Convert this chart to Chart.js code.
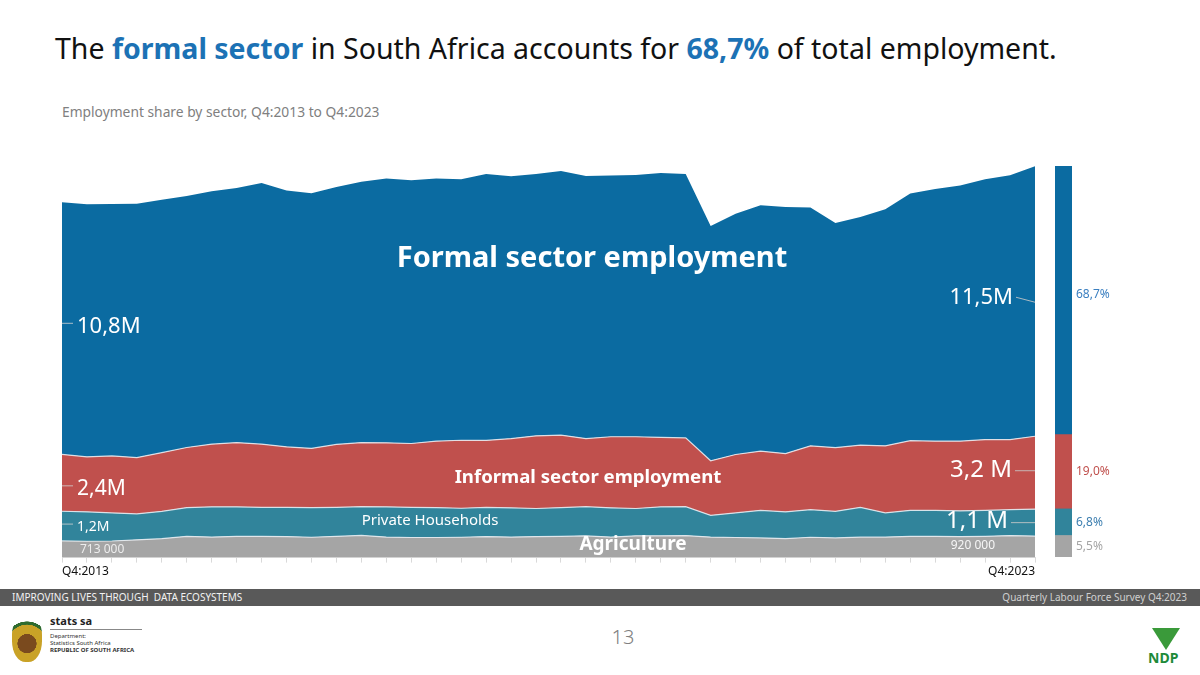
<!DOCTYPE html>
<html>
<head>
<meta charset="utf-8">
<script src="https://cdn.jsdelivr.net/npm/chart.js@4/dist/chart.umd.min.js"></script>
<style>
  body { margin: 0; width: 1200px; height: 675px; position: relative; background: #fff; overflow: hidden; font-family: 'Noto Sans', 'Open Sans', sans-serif; }
  #title { position: absolute; left: 55px; top: 29px; font-size: 28.5px; line-height: 38px; color: #111; white-space: nowrap; }
  #title b { color: #1c72b5; }
  #subtitle { position: absolute; left: 62px; top: 103px; font-size: 13.8px; line-height: 18px; color: #808080; white-space: nowrap; }
  #mainWrap { position: absolute; left: 0; top: 140px; width: 1045px; height: 441px; }
  #barWrap { position: absolute; left: 1040px; top: 140px; width: 160px; height: 417px; }
  #band { position: absolute; left: 0; top: 589px; width: 1200px; height: 17px; background: #595959; }
  #band .l { position: absolute; left: 12px; top: 1px; font-size: 10px; line-height: 15px; color: #f2f2f2; font-family: 'Liberation Sans Narrow', 'Noto Sans', sans-serif; }
  #band .r { position: absolute; right: 13px; top: 1px; font-size: 10px; line-height: 15px; color: #d0d0d0; font-family: 'Liberation Sans Narrow', 'Noto Sans', sans-serif; }
  #page { position: absolute; left: 600px; width: 46px; top: 624px; text-align: center; font-size: 20px; line-height: 26px; color: #808080; font-weight: 300; }
  #arms { position: absolute; left: 12px; top: 616px; width: 30px; height: 46px; border-radius: 40% 40% 45% 45%; background: radial-gradient(circle at 50% 60%, #7a4a1e 0 30%, #c9a227 31% 60%, #2f6b2f 61% 70%, #fff 71%); }
  #stats { position: absolute; left: 50px; top: 614px; font-size: 11px; font-weight: bold; color: #222; line-height: 13px; }
  #stats .rule { width: 92px; height: 1px; background: #888; margin: 2px 0 3px; }
  #stats .small { font-size: 6px; font-weight: normal; line-height: 7px; color: #333; }
  #stats .small b { font-weight: bold; }
  #ndp { position: absolute; left: 1148px; top: 628px; width: 38px; height: 40px; }
  #ndp .tri { position: absolute; left: 4px; top: 0; width: 0; height: 0; border-left: 14px solid transparent; border-right: 14px solid transparent; border-top: 22px solid #3a9a3a; }
  #ndp .txt { position: absolute; left: 0; top: 20px; font-size: 14px; font-weight: bold; color: #1e8a3a; font-family: 'Liberation Sans Narrow', 'Noto Sans', sans-serif; }
</style>
</head>
<body>
<div id="title">The <b>formal sector</b> in South Africa accounts for <b>68,7%</b> of total employment.</div>
<div id="subtitle">Employment share by sector, Q4:2013 to Q4:2023</div>
<div id="mainWrap"><canvas id="areaChart"></canvas></div>
<div id="barWrap"><canvas id="shareChart"></canvas></div>
<div id="band"><span class="l">IMPROVING LIVES THROUGH&nbsp; DATA ECOSYSTEMS</span><span class="r">Quarterly Labour Force Survey Q4:2023</span></div>
<div id="page">13</div>
<div id="arms"></div>
<div id="stats">stats sa<div class="rule"></div><div class="small">Department:<br>Statistics South Africa<br><b>REPUBLIC OF SOUTH AFRICA</b></div></div>
<div id="ndp"><div class="tri"></div><div class="txt">NDP</div></div>

<script>
// quarters shown on the chart (one point per quarter)
const quarters = [
  'Q4:2013',
  'Q1:2014', 'Q2:2014', 'Q3:2014', 'Q4:2014',
  'Q1:2015', 'Q2:2015', 'Q3:2015', 'Q4:2015',
  'Q1:2016', 'Q2:2016', 'Q3:2016', 'Q4:2016',
  'Q1:2017', 'Q2:2017', 'Q3:2017', 'Q4:2017',
  'Q1:2018', 'Q2:2018', 'Q3:2018', 'Q4:2018',
  'Q1:2019', 'Q2:2019', 'Q3:2019', 'Q4:2019',
  'Q1:2020', 'Q2:2020', 'Q3:2020', 'Q4:2020',
  'Q1:2021', 'Q2:2021', 'Q3:2021', 'Q4:2021',
  'Q1:2022', 'Q2:2022', 'Q3:2022', 'Q4:2022',
  'Q1:2023', 'Q2:2023', 'Q3:2023'
];
const axisEndLabels = ['Q4:2013', 'Q4:2023'];

// employment in millions
const agriculture = [0.713, 0.70, 0.71, 0.76, 0.81, 0.91, 0.88, 0.91, 0.91, 0.90, 0.87, 0.91, 0.95, 0.88, 0.86, 0.86, 0.87, 0.90, 0.88, 0.90,
  0.91, 0.93, 0.88, 0.93, 0.93, 0.94, 0.88, 0.86, 0.84, 0.81, 0.87, 0.84, 0.88, 0.88, 0.91, 0.91, 0.90, 0.91, 0.94, 0.92];
const privateHouseholds = [1.27, 1.26, 1.20, 1.11, 1.17, 1.23, 1.29, 1.26, 1.24, 1.25, 1.27, 1.24, 1.23, 1.29, 1.29, 1.28, 1.24, 1.25, 1.25, 1.20,
  1.23, 1.25, 1.25, 1.17, 1.24, 1.24, 0.93, 1.05, 1.18, 1.15, 1.18, 1.14, 1.27, 1.03, 1.11, 1.11, 1.10, 1.11, 1.11, 1.15];
const informalSector = [2.43, 2.35, 2.44, 2.41, 2.51, 2.57, 2.68, 2.75, 2.70, 2.59, 2.53, 2.69, 2.74, 2.74, 2.73, 2.84, 2.91, 2.86, 2.96, 3.11,
  3.10, 2.91, 3.04, 3.07, 2.97, 2.94, 2.33, 2.50, 2.53, 2.49, 2.73, 2.72, 2.66, 2.87, 2.98, 2.96, 2.98, 3.03, 3.00, 3.12];
const formalSector = [10.79, 10.80, 10.77, 10.86, 10.82, 10.76, 10.82, 10.89, 11.17, 10.96, 10.91, 11.01, 11.16, 11.30, 11.26, 11.23, 11.16, 11.40, 11.22, 11.20,
  11.30, 11.23, 11.17, 11.20, 11.31, 11.29, 10.04, 10.30, 10.52, 10.55, 10.19, 9.61, 9.76, 10.12, 10.57, 10.79, 10.94, 11.13, 11.30, 11.55];

// latest quarter shares (%), bottom to top
const shareLabels = ['Agriculture', 'Private Households', 'Informal sector employment', 'Formal sector employment'];
const latestShares = [5.5, 6.8, 19.0, 68.7];
const shareTexts = ['5,5%', '6,8%', '19,0%', '68,7%'];

const startTexts = ['713 000', '1,2M', '2,4M', '10,8M'];
const endTexts = ['920 000', '1,1 M', '3,2 M', '11,5M'];

const colors = ['#a5a5a5', '#31849b', '#c0504d', '#0b6ba1'];
const textColors = ['#a5a5a5', '#3d7fb0', '#c0504d', '#3a7fc0'];

function bandMid(chart, ds, i) {
  const y1 = chart.getDatasetMeta(ds).data[i].y;
  const y0 = ds > 0 ? chart.getDatasetMeta(ds - 1).data[i].y : chart.scales.y.getPixelForValue(0);
  return (y0 + y1) / 2;
}

const areaLabels = {
  id: 'areaLabels',
  afterDatasetsDraw(chart) {
    const ctx = chart.ctx;
    const area = chart.chartArea;
    const last = quarters.length - 1;
    ctx.save();
    ctx.textBaseline = 'middle';
    ctx.fillStyle = '#fff';

    // left side values
    const leftFonts = ['12px', '14px', '21px', '22px'];
    const leftShift = [0, 1, 6, -2];
    for (let d = 0; d < 4; d++) {
      const y = bandMid(chart, d, 0) + leftShift[d];
      ctx.font = leftFonts[d] + " 'Noto Sans'";
      ctx.textAlign = 'left';
      ctx.fillStyle = d === 0 ? 'rgba(255,255,255,0.8)' : '#fff';
      ctx.fillText(startTexts[d], area.left + (d === 0 ? 18 : 15), y);
      if (d > 0) {
        ctx.strokeStyle = 'rgba(210,210,210,0.8)';
        ctx.lineWidth = 1;
        ctx.beginPath();
        ctx.moveTo(area.left, y - 3);
        ctx.lineTo(area.left + 11, y - 3);
        ctx.stroke();
      }
    }

    // right side values
    const rightFonts = ['12px', '24px', '24px', '22px'];
    const rightEnd = [995, 1008, 1012, 1013];
    const rightShift = [-1, -1, -3, -4];
    for (let d = 0; d < 4; d++) {
      const y = bandMid(chart, d, last) + rightShift[d];
      ctx.font = rightFonts[d] + " 'Noto Sans'";
      ctx.textAlign = 'right';
      ctx.fillStyle = d === 0 ? 'rgba(255,255,255,0.9)' : '#fff';
      ctx.fillText(endTexts[d], rightEnd[d], y);
      if (d > 0) {
        ctx.strokeStyle = 'rgba(200,200,200,0.85)';
        ctx.lineWidth = 1;
        ctx.beginPath();
        ctx.moveTo(rightEnd[d] + 3, y + (d === 3 ? 0 : 1));
        ctx.lineTo(area.right, y + (d === 3 ? 5 : 1));
        ctx.stroke();
      }
    }

    // series names
    ctx.textAlign = 'center';
    ctx.fillStyle = '#fff';
    ctx.font = "bold 29px 'Noto Sans'";
    ctx.fillText('Formal sector employment', 592, 119);
    ctx.font = "bold 18.6px 'Noto Sans'";
    ctx.fillText('Informal sector employment', 588, 338);
    ctx.font = "15px 'Noto Sans'";
    ctx.fillText('Private Households', 430, 381);
    ctx.font = "bold 19px 'Noto Sans'";
    ctx.fillText('Agriculture', 633, 405);
    ctx.restore();
  }
};

const shareText = {
  id: 'shareText',
  afterDatasetsDraw(chart) {
    const ctx = chart.ctx;
    ctx.save();
    ctx.font = "12px 'Noto Sans'";
    ctx.textAlign = 'left';
    ctx.textBaseline = 'middle';
    chart.data.datasets.forEach((ds, d) => {
      const bar = chart.getDatasetMeta(d).data[0];
      ctx.fillStyle = textColors[d];
      const shift = d === 3 ? -6 : 0;
      ctx.fillText(shareTexts[d], bar.x + bar.width / 2 + 4, (bar.y + bar.base) / 2 + shift);
    });
    ctx.restore();
  }
};

const seriesData = [agriculture, privateHouseholds, informalSector, formalSector];

new Chart(document.getElementById('areaChart'), {
  type: 'line',
  data: {
    labels: quarters,
    datasets: seriesData.map((vals, d) => ({
      label: shareLabels[d],
      data: vals,
      backgroundColor: colors[d],
      borderColor: d === 3 ? colors[d] : 'rgba(235,240,245,0.85)',
      borderWidth: d === 3 ? 0 : 1.2,
      fill: d === 0 ? 'origin' : '-1',
      pointRadius: 0,
      tension: 0
    }))
  },
  options: {
    responsive: true,
    maintainAspectRatio: false,
    animation: false,
    layout: { padding: { left: 62, right: 10, top: 26, bottom: 0 } },
    plugins: { legend: { display: false }, tooltip: { enabled: false } },
    scales: {
      x: {
        grid: { display: true, drawOnChartArea: false, color: '#d9d9d9', tickLength: 5 },
        border: { color: '#d9d9d9' },
        ticks: {
          autoSkip: false,
          maxRotation: 0,
          align: 'inner',
          color: '#111',
          font: { family: 'Noto Sans', size: 12 },
          padding: 2,
          callback: (v, i, ticks) => i === 0 ? axisEndLabels[0] : (i === ticks.length - 1 ? axisEndLabels[1] : '')
        }
      },
      y: { display: false, stacked: true, min: 0, max: 16.75 }
    }
  },
  plugins: [areaLabels]
});

new Chart(document.getElementById('shareChart'), {
  type: 'bar',
  data: {
    labels: ['Q4:2023'],
    datasets: latestShares.map((v, d) => ({
      label: shareLabels[d],
      data: [v],
      backgroundColor: colors[d],
      barPercentage: 1,
      categoryPercentage: 1
    }))
  },
  options: {
    responsive: true,
    maintainAspectRatio: false,
    animation: false,
    layout: { padding: { left: 15, right: 128, top: 26, bottom: 0 } },
    plugins: { legend: { display: false }, tooltip: { enabled: false } },
    scales: {
      x: { display: false, stacked: true },
      y: { display: false, stacked: true, min: 0, max: 100 }
    }
  },
  plugins: [shareText]
});
</script>
</body>
</html>
